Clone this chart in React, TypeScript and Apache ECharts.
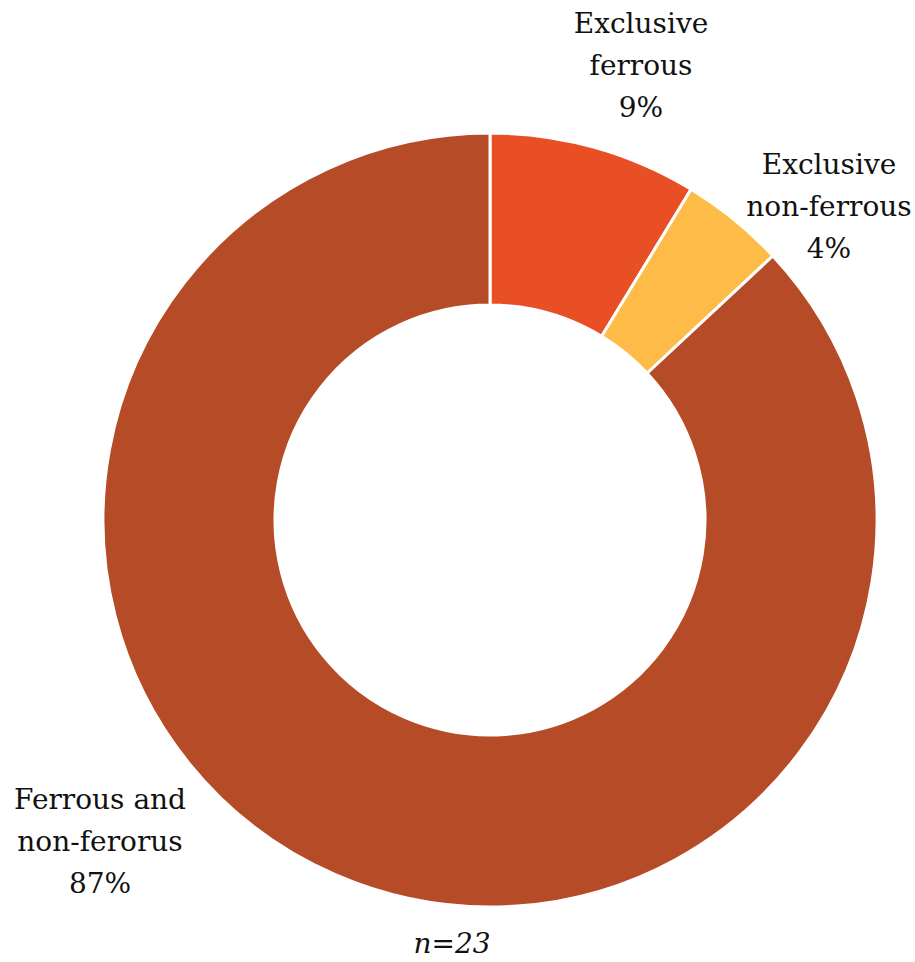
import React, { useEffect, useRef } from "react";
import * as echarts from "echarts";

const categories = ["Exclusive\nferrous", "Exclusive\nnon-ferrous", "Ferrous and\nnon-ferorus"];
const counts = [2, 1, 20];
const percentLabels = ["9%", "4%", "87%"];
const colors = ["#E84F25", "#FFBB48", "#B64B27"];
const labelPos = [
  [641, 65],
  [829, 206],
  [100, 841],
];
const sampleNote = "n=23";
const FONT = "DejaVu Serif, serif";

export default function App() {
  const ref = useRef<HTMLDivElement>(null);
  useEffect(() => {
    document.body.style.margin = "0";
    const chart = echarts.init(ref.current!, null, { renderer: "svg" });
    chart.setOption({
      animation: false,
      backgroundColor: "#ffffff",
      series: [
        {
          type: "pie",
          center: [490, 520],
          radius: [215, 387],
          startAngle: 90,
          clockwise: true,
          avoidLabelOverlap: false,
          itemStyle: { borderColor: "#ffffff", borderWidth: 3 },
          emphasis: { disabled: true },
          labelLine: { show: false },
          label: {
            show: true,
            formatter: (p: any) => `${p.name}\n${percentLabels[p.dataIndex]}`,
            fontFamily: FONT,
            fontSize: 28,
            lineHeight: 42,
            color: "#111111",
            align: "center",
          },
          labelLayout: (params: any) => ({
            x: labelPos[params.dataIndex][0],
            y: labelPos[params.dataIndex][1],
            align: "center",
            verticalAlign: "middle",
          }),
          data: categories.map((c, i) => ({
            name: c,
            value: counts[i],
            itemStyle: { color: colors[i] },
          })),
        },
      ],
      graphic: [
        {
          type: "text",
          x: 452,
          y: 943,
          style: {
            text: sampleNote,
            fontFamily: FONT,
            fontStyle: "italic",
            fontSize: 28,
            fill: "#111111",
            textAlign: "center",
            textVerticalAlign: "middle",
          },
        },
      ],
    });
    return () => chart.dispose();
  }, []);
  return (
    <div
      ref={ref}
      style={{ position: "absolute", left: 0, top: 0, width: 915, height: 962 }}
    />
  );
}
